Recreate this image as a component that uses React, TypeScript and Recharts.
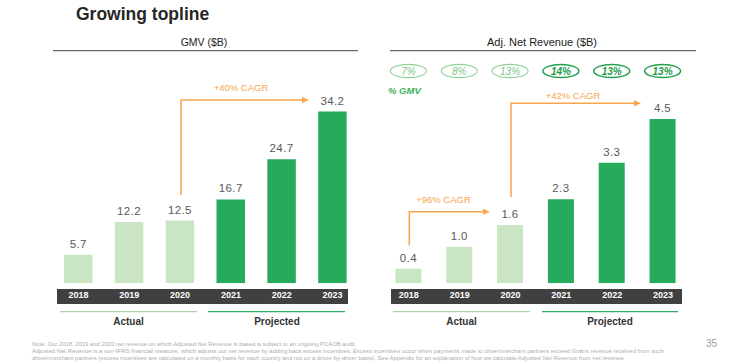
import React from 'react';
import { BarChart, Bar, XAxis, YAxis, Cell, LabelList } from 'recharts';

const years = ['2018', '2019', '2020', '2021', '2022', '2023'];
const gmv = [5.7, 12.2, 12.5, 16.7, 24.7, 34.2];
const revenue = [0.4, 1.0, 1.6, 2.3, 3.3, 4.5];
const pctGmv = ['7%', '8%', '13%', '14%', '13%', '13%'];
const phase = ['actual', 'actual', 'actual', 'projected', 'projected', 'projected'];
const footnotes = [
  'Note: Our 2018, 2019 and 2020 net revenue on which Adjusted Net Revenue is based is subject to an ongoing PCAOB audit',
  "Adjusted Net Revenue is a non-IFRS financial measure, which adjusts our net revenue by adding back excess incentives. Excess incentives occur when payments made to driver/merchant partners exceed Grab's revenue received from such",
  'driver/merchant partners (excess incentives are calculated on a monthly basis for each country and not on a driver-by-driver basis). See Appendix for an explanation of how we calculate Adjusted Net Revenue from net revenue',
];

const data = years.map((y, i) => ({ year: y, gmv: gmv[i], revenue: revenue[i], pct: pctGmv[i], phase: phase[i] }));

const FONT = '"Liberation Sans", Arial, sans-serif';
const LIGHT = '#C9E5C4';
const DARK = '#25AB5B';
const ORANGE = '#F7A64C';

const YearTick = (props: any) => {
  const { x, y, payload } = props;
  return (
    <text x={x} y={y} dy={7} textAnchor="middle" fill="#ffffff" fontSize={9} fontWeight="bold" fontFamily={FONT}>
      {payload.value}
    </text>
  );
};

const fmt = (v: any) => Number(v).toFixed(1);

const PctEllipse = (props: any) => {
  const { x, width, value, index } = props;
  const cx = Number(x) + Number(width) / 2;
  const dark = phase[index] === 'projected';
  return (
    <g>
      <ellipse cx={cx} cy={71} rx={18} ry={6.6} fill="none" stroke={dark ? '#22A14F' : '#8FD096'} strokeWidth={dark ? 1.5 : 1.1} />
      <text x={cx} y={74.5} textAnchor="middle" fontSize={10} fontStyle="italic" fontWeight={dark ? 'bold' : 'normal'} fill={dark ? '#1F9D4C' : '#7CC688'} fontFamily={FONT}>
        {value}
      </text>
    </g>
  );
};

const labelStyle = { fontSize: 11.5, fill: '#595959', fontFamily: FONT, letterSpacing: 0.4 } as any;

function Arrow({ x0, y0, y1, x1 }: { x0: number; y0: number; y1: number; x1: number }) {
  return (
    <g>
      <polyline points={`${x0},${y0} ${x0},${y1} ${x1 - 5},${y1}`} fill="none" stroke={ORANGE} strokeWidth={1.5} />
      <polygon points={`${x1},${y1} ${x1 - 7},${y1 - 3} ${x1 - 7},${y1 + 3}`} fill={ORANGE} />
    </g>
  );
}

export default function App() {
  return (
    <div style={{ position: 'absolute', left: 0, top: 0, width: 732, height: 363, background: '#ffffff', overflow: 'hidden', fontFamily: FONT }}>
      <svg width={732} height={363} style={{ position: 'absolute', left: 0, top: 0 }}>
        <rect x={57} y={289} width={291} height={15} fill="#404040" />
        <rect x={391} y={289} width={291} height={15} fill="#404040" />
      </svg>
      <div style={{ position: 'absolute', left: 0, top: 0 }}>
        <BarChart width={360} height={363} data={data} margin={{ top: 82.5, right: 2, bottom: 0, left: 53 }}>
          <XAxis dataKey="year" axisLine={false} tickLine={false} height={79.7} interval={0} tick={<YearTick />} />
          <YAxis hide domain={[0, 40]} allowDataOverflow />
          <Bar dataKey="gmv" barSize={28.5} isAnimationActive={false}>
            {data.map((d, i) => (
              <Cell key={i} fill={d.phase === 'actual' ? LIGHT : DARK} />
            ))}
            <LabelList dataKey="gmv" position="top" offset={7} formatter={fmt} style={labelStyle} />
          </Bar>
        </BarChart>
      </div>
      <div style={{ position: 'absolute', left: 366, top: 0 }}>
        <BarChart width={330} height={363} data={data} margin={{ top: 82.5, right: 7.6, bottom: 0, left: 17.4 }}>
          <XAxis dataKey="year" axisLine={false} tickLine={false} height={79.7} interval={0} tick={<YearTick />} />
          <YAxis hide domain={[0, 5.5]} allowDataOverflow />
          <Bar dataKey="revenue" barSize={26} isAnimationActive={false}>
            {data.map((d, i) => (
              <Cell key={i} fill={d.phase === 'actual' ? LIGHT : DARK} />
            ))}
            <LabelList dataKey="revenue" position="top" offset={7} formatter={fmt} style={labelStyle} />
            <LabelList dataKey="pct" content={<PctEllipse />} />
          </Bar>
        </BarChart>
      </div>
      <svg width={732} height={363} style={{ position: 'absolute', left: 0, top: 0, pointerEvents: 'none' }} fontFamily={FONT}>
        <text x={76} y={20} fontSize={17.5} fontWeight="bold" fill="#262626">Growing topline</text>

        <text x={204} y={45.5} textAnchor="middle" fontSize={10.5} fill="#222">GMV ($B)</text>
        <line x1={53} x2={358} y1={50.7} y2={50.7} stroke="#404040" strokeWidth={1} />
        <text x={542} y={45.5} textAnchor="middle" fontSize={11} fill="#222">Adj. Net Revenue ($B)</text>
        <line x1={390} x2={696} y1={50.7} y2={50.7} stroke="#404040" strokeWidth={1} />

        <text x={388} y={94} fontSize={9.5} fontStyle="italic" fontWeight="bold" fill="#3DB15A">% GMV</text>

        <Arrow x0={181} y0={195} y1={100} x1={309} />
        <text x={241} y={90.5} textAnchor="middle" fontSize={9.5} fill={ORANGE}>+40% CAGR</text>
        <Arrow x0={511} y0={197} y1={103.3} x1={641} />
        <text x={573} y={98.5} textAnchor="middle" fontSize={9.5} fill={ORANGE}>+42% CAGR</text>
        <Arrow x0={409.3} y0={245.5} y1={211.7} x1={490} />
        <text x={443.5} y={202.8} textAnchor="middle" fontSize={9.5} fill={ORANGE}>+96% CAGR</text>

        <line x1={60} x2={197} y1={311.7} y2={311.7} stroke="#A6D9A2" strokeWidth={1.3} />
        <line x1={208} x2={345} y1={311.7} y2={311.7} stroke="#2DAE62" strokeWidth={1.3} />
        <text x={128.5} y={325.2} textAnchor="middle" fontSize={10} fontWeight="bold" fill="#333">Actual</text>
        <text x={277} y={325.2} textAnchor="middle" fontSize={10} fontWeight="bold" fill="#333">Projected</text>

        <line x1={393} x2={530} y1={311.7} y2={311.7} stroke="#A6D9A2" strokeWidth={1.3} />
        <line x1={542} x2={678} y1={311.7} y2={311.7} stroke="#2DAE62" strokeWidth={1.3} />
        <text x={461.5} y={325.2} textAnchor="middle" fontSize={10} fontWeight="bold" fill="#333">Actual</text>
        <text x={610} y={325.2} textAnchor="middle" fontSize={10} fontWeight="bold" fill="#333">Projected</text>

        <text x={32} y={346} fontSize={5.6} fill="#ADADAD" textLength={323} lengthAdjust="spacingAndGlyphs">{footnotes[0]}</text>
        <text x={32} y={352.7} fontSize={5.6} fill="#ADADAD" textLength={631.7} lengthAdjust="spacingAndGlyphs">{footnotes[1]}</text>
        <text x={32} y={359.7} fontSize={5.6} fill="#ADADAD" textLength={591.7} lengthAdjust="spacingAndGlyphs">{footnotes[2]}</text>

        <text x={711.5} y={347} textAnchor="middle" fontSize={10} fill="#A0A0A0">35</text>
      </svg>
    </div>
  );
}
